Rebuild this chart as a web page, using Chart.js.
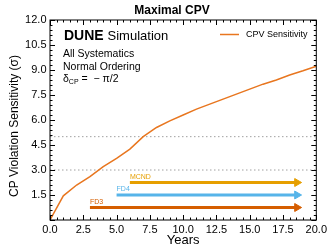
<!DOCTYPE html>
<html>
<head>
<meta charset="utf-8">
<script src="https://cdn.jsdelivr.net/npm/chart.js@4"></script>
<style>
    body { margin: 0; background: #fff; }
    #wrap { width: 330px; height: 247px; }
</style>
</head>
<body>
<div id="wrap"><canvas id="cpvChart"></canvas></div>
<script>
// Data
const years = [0, 1, 2, 3, 4, 5, 6, 7, 8, 9, 10, 11, 12, 13, 14, 15, 16, 17, 18, 19, 20];
const cpvSensitivity = [0, 1.45, 2.1, 2.6, 3.2, 3.7, 4.25, 5.0, 5.55, 5.95, 6.3, 6.65, 6.95, 7.25, 7.55, 7.85, 8.15, 8.4, 8.7, 8.95, 9.22];

const stageLabels = ['FD3', 'FD4', 'MCND'];
const stageStarts = [3, 5, 6];
const stageEnds = [18.55, 18.55, 18.55];
const stageLevels = [0.75, 1.5, 2.25];
const stageColors = ['#d55e00', '#56b4e9', '#e69f00'];

const sigmaLines = [3, 5];
const xTickStep = 2.5;
const yTickStep = 1.5;

const FONT = '"Liberation Sans", Arial, Helvetica, sans-serif';
const CURVE_COLOR = '#e8761f';

const datasets = [
    {
        label: 'CPV Sensitivity',
        data: years.map((yr, i) => ({ x: yr, y: cpvSensitivity[i] })),
        borderColor: CURVE_COLOR,
        borderWidth: 1.5,
        pointRadius: 0,
        tension: 0
    }
];

sigmaLines.forEach(s => {
    datasets.push({
        label: s + ' sigma',
        data: [{ x: 0, y: s }, { x: 20, y: s }],
        borderColor: '#a0a0a0',
        borderWidth: 1,
        borderDash: [1.5, 2.5],
        pointRadius: 0
    });
});

stageLabels.forEach((name, i) => {
    datasets.push({
        label: name,
        data: [{ x: stageStarts[i], y: stageLevels[i] }, { x: stageEnds[i], y: stageLevels[i] }],
        borderColor: stageColors[i],
        borderWidth: 3,
        borderCapStyle: 'butt',
        pointStyle: 'triangle',
        pointRotation: 90,
        pointRadius: ctx => ctx.dataIndex === 1 ? 4.6 : 0,
        pointBackgroundColor: stageColors[i],
        pointBorderColor: stageColors[i],
        pointBorderWidth: 1
    });
});

// frame, inward ticks and the annotation text
const decorations = {
    id: 'decorations',
    afterDatasetsDraw(chart) {
        const ctx = chart.ctx;
        const area = chart.chartArea;
        const xs = chart.scales.x;
        const ys = chart.scales.y;
        ctx.save();

        ctx.strokeStyle = '#000';
        ctx.lineWidth = 1;
        ctx.strokeRect(area.left, area.top, area.right - area.left, area.bottom - area.top);

        ctx.beginPath();
        for (let i = 0; i <= 40; i++) {
            const px = Math.round(xs.getPixelForValue(i * 0.5)) + 0.5;
            const len = i % 5 === 0 ? 5 : 2.5;
            ctx.moveTo(px, area.bottom); ctx.lineTo(px, area.bottom - len);
            ctx.moveTo(px, area.top); ctx.lineTo(px, area.top + len);
        }
        for (let i = 0; i <= 40; i++) {
            const py = Math.round(ys.getPixelForValue(i * 0.3)) + 0.5;
            const len = i % 5 === 0 ? 5 : 2.5;
            ctx.moveTo(area.left, py); ctx.lineTo(area.left + len, py);
            ctx.moveTo(area.right, py); ctx.lineTo(area.right - len, py);
        }
        ctx.stroke();

        ctx.fillStyle = '#000';
        ctx.textBaseline = 'middle';
        ctx.textAlign = 'center';
        ctx.font = 'bold 12px ' + FONT;
        ctx.fillText('Maximal CPV', 172, 11);

        ctx.font = '13px ' + FONT;
        ctx.fillText('Years', (area.left + area.right) / 2, 240);

        ctx.save();
        ctx.translate(15, 126);
        ctx.rotate(-Math.PI / 2);
        ctx.font = '12px ' + FONT;
        ctx.fillText('CP Violation Sensitivity (\u03c3)', 0, 0);
        ctx.restore();

        ctx.textAlign = 'left';
        ctx.textBaseline = 'alphabetic';
        ctx.font = 'bold 14px ' + FONT;
        ctx.fillText('DUNE', 64, 40);
        const w = ctx.measureText('DUNE ').width;
        ctx.font = '13px ' + FONT;
        ctx.fillText('Simulation', 64 + w, 40);

        ctx.font = '10.5px ' + FONT;
        ctx.fillText('All Systematics', 63, 57);
        ctx.fillText('Normal Ordering', 63, 69.5);
        ctx.fillText('\u03b4', 63, 82);
        let dx = 63 + ctx.measureText('\u03b4').width;
        ctx.font = '7px ' + FONT;
        ctx.fillText('CP', dx, 84);
        dx += ctx.measureText('CP').width;
        ctx.font = '10.5px ' + FONT;
        ctx.fillText(' =  \u2212 \u03c0/2', dx, 82);

        // legend
        ctx.strokeStyle = CURVE_COLOR;
        ctx.lineWidth = 1.5;
        ctx.beginPath();
        ctx.moveTo(220, 34.5);
        ctx.lineTo(239, 34.5);
        ctx.stroke();
        ctx.font = '9px ' + FONT;
        ctx.textBaseline = 'middle';
        ctx.fillText('CPV Sensitivity', 246, 35);

        // stage labels above the arrows
        ctx.font = '7px ' + FONT;
        stageLabels.forEach((name, i) => {
            ctx.fillStyle = stageColors[i];
            ctx.fillText(name, xs.getPixelForValue(stageStarts[i]), ys.getPixelForValue(stageLevels[i]) - 5.5);
        });

        ctx.restore();
    }
};

new Chart(document.getElementById('cpvChart'), {
    type: 'line',
    data: { datasets: datasets },
    options: {
        responsive: true,
        maintainAspectRatio: false,
        animation: false,
        devicePixelRatio: 1,
        layout: { padding: { top: 20, right: 10, left: 0, bottom: 0 } },
        plugins: {
            legend: { display: false },
            title: { display: false },
            tooltip: { enabled: false }
        },
        scales: {
            x: {
                type: 'linear',
                min: 0,
                max: 20,
                grid: { display: false, drawTicks: false },
                border: { display: false },
                afterFit: scale => { scale.height = 27; },
                ticks: {
                    stepSize: xTickStep,
                    padding: 3,
                    color: '#000',
                    font: { family: FONT, size: 11 },
                    maxRotation: 0,
                    callback: v => v.toFixed(1)
                }
            },
            y: {
                min: 0,
                max: 12,
                grid: { display: false, drawTicks: false },
                border: { display: false },
                afterFit: scale => { scale.width = 50; },
                ticks: {
                    stepSize: yTickStep,
                    padding: 3.5,
                    color: '#000',
                    font: { family: FONT, size: 11 },
                    callback: v => v === 0 ? '' : v.toFixed(1)
                }
            }
        }
    },
    plugins: [decorations]
});
</script>
</body>
</html>
